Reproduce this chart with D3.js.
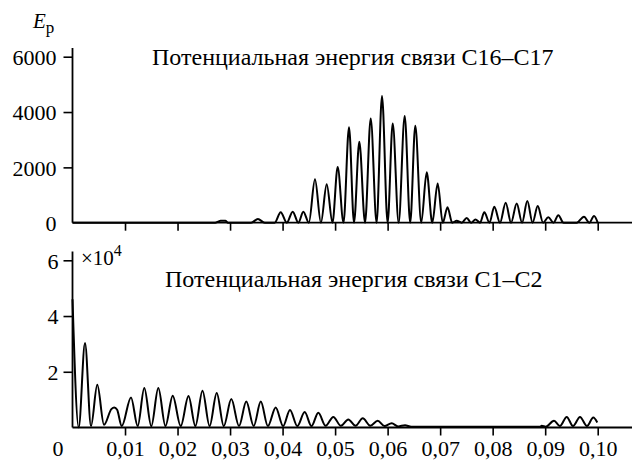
<!DOCTYPE html>
<html>
<head>
<meta charset="utf-8">
<script src="https://cdn.jsdelivr.net/npm/d3@7"></script>
<style>
  html, body { margin: 0; padding: 0; background: #fff; }
  svg { display: block; }
  text { font-family: "Liberation Serif", "Times New Roman", serif; fill: #000; }
</style>
</head>
<body>
<svg id="chart" width="632" height="461"></svg>
<script>
// Bond C16–C17: time (s) at extrema of the oscillation, and potential energy there
const c16c17T = [0, 0.0272, 0.0277, 0.0282, 0.0291, 0.0296, 0.0340, 0.0353, 0.0366, 0.0385,
  0.03964, 0.0408, 0.04193, 0.0430, 0.04395, 0.0450, 0.04617, 0.0473, 0.0484, 0.0495,
  0.05049, 0.0516, 0.05265, 0.0536, 0.05461, 0.0557, 0.05678, 0.0579, 0.05893, 0.0600,
  0.06097, 0.0621, 0.06325, 0.0643, 0.06527, 0.0664, 0.06744, 0.0685, 0.06953, 0.0705,
  0.0714, 0.0723, 0.07315, 0.0741, 0.07506, 0.0759, 0.07673, 0.0776, 0.07841, 0.0794,
  0.08031, 0.0814, 0.08248, 0.0835, 0.08458, 0.0856, 0.0866, 0.0876, 0.08858, 0.0896,
  0.09059, 0.0916, 0.0925, 0.0935, 0.0960, 0.09739, 0.0984, 0.0993, 0.1000];
const c16c17E = [0, 0, 40, 70, 70, 0, 0, 130, 0, 0,
  380, 0, 400, 0, 400, 0, 1570, 0, 1390, 0,
  2010, 0, 3450, 0, 2930, 0, 3770, 0, 4580, 0,
  3590, 0, 3860, 0, 3500, 0, 1820, 0, 1420, 0,
  560, 0, 70, 0, 170, 0, 120, 0, 380, 0,
  580, 0, 720, 0, 690, 0, 780, 0, 600, 0,
  200, 0, 270, 0, 0, 215, 0, 240, 0];

// Bond C1–C2: time (s) at extrema and potential energy there
const c1c2T = [0, 0.00118, 0.00238, 0.00352, 0.00472, 0.0060, 0.0074, 0.00796, 0.0085, 0.00937,
  0.01114, 0.01241, 0.01367, 0.0150, 0.01634, 0.0177, 0.01908, 0.0206, 0.02209, 0.0234,
  0.02475, 0.0261, 0.02746, 0.0288, 0.03024, 0.0317, 0.03309, 0.0345, 0.03585, 0.0372,
  0.03869, 0.0401, 0.04141, 0.0428, 0.04421, 0.0455, 0.0468, 0.0482, 0.04966, 0.0511,
  0.05251, 0.0539, 0.05526, 0.0567, 0.05811, 0.0594, 0.06078, 0.0620, 0.06331, 0.0645,
  0.0890, 0.08934, 0.0901, 0.09168, 0.0928, 0.0941, 0.0953, 0.09663, 0.09796, 0.09916, 0.09992];
const c1c2E = [46000, 0, 30300, 500, 15300, 1000, 6600, 7200, 6400, 500,
  10800, 500, 14200, 500, 14200, 500, 11400, 500, 11300, 500,
  13200, 500, 12400, 500, 10200, 500, 9300, 500, 9300, 500,
  7200, 500, 6300, 500, 5550, 500, 5300, 600, 3800, 600,
  2900, 600, 3300, 600, 2400, 500, 1500, 400, 800, 300,
  300, 600, 300, 2400, 500, 3800, 500, 3800, 500, 3600, 1800];

const xTicks = [0, 0.01, 0.02, 0.03, 0.04, 0.05, 0.06, 0.07, 0.08, 0.09, 0.10];
const topYTicks = [0, 2000, 4000, 6000];
const bottomYTicks = [20000, 40000, 60000];

const titleTop = "Потенциальная энергия связи C16–C17";
const titleBottom = "Потенциальная энергия связи C1–C2";

const FONT = '"Liberation Serif", "Times New Roman", serif';
const svg = d3.select("#chart");

const x = d3.scaleLinear().domain([0, 0.1]).range([72.5, 597.7]);
const yTop = d3.scaleLinear().domain([0, 6000]).range([222.7, 56.7]);
const yBot = d3.scaleLinear().domain([0, 60000]).range([427.5, 260.3]);

const fmtX = d => d === 0 ? "0" : d.toFixed(2).replace(".", ",");

function panel(y, yTicks, yFmt, yTop0, labelPad, showXLabels) {
  const g = svg.append("g");
  // y axis
  const ya = g.append("g").attr("transform", `translate(${x(0)},0)`)
    .call(d3.axisLeft(y).tickValues(yTicks).tickSize(9).tickPadding(labelPad).tickFormat(yFmt))
    .attr("font-family", FONT).attr("font-size", 22);
  ya.select(".domain").remove();
  ya.selectAll("line").attr("stroke", "#000").attr("stroke-width", 1.6);
  ya.selectAll("text").attr("dy", "0.36em");
  ya.selectAll(".tick").filter(d => d === 0).select("line").remove();
  g.append("line").attr("x1", x(0)).attr("x2", x(0)).attr("y1", yTop0).attr("y2", y(0))
    .attr("stroke", "#000").attr("stroke-width", 1.8);
  // x axis
  const xa = g.append("g").attr("transform", `translate(0,${y(0)})`)
    .call(d3.axisBottom(x).tickValues(xTicks).tickSize(8).tickPadding(5)
      .tickFormat(showXLabels ? fmtX : ""))
    .attr("font-family", FONT).attr("font-size", 22);
  xa.select(".domain").remove();
  xa.selectAll("line").attr("stroke", "#000").attr("stroke-width", 1.6);
  xa.selectAll(".tick").filter(d => d === 0).select("line").remove();
  xa.selectAll(".tick").filter(d => d === 0).select("text").attr("x", -15);
  g.append("line").attr("x1", x(0)).attr("x2", 632).attr("y1", y(0)).attr("y2", y(0))
    .attr("stroke", "#000").attr("stroke-width", 1.8);
  return g;
}

panel(yTop, topYTicks, d => d, 48, 7, false);
panel(yBot, bottomYTicks, d => d / 10000, 251.5, 5, true);

const line = (y) => d3.line()
  .x(d => x(d[0])).y(d => y(d[1]))
  .curve(d3.curveMonotoneX);

svg.append("path")
  .datum(d3.zip(c16c17T, c16c17E))
  .attr("d", line(yTop))
  .attr("fill", "none").attr("stroke", "#000").attr("stroke-width", 2).attr("stroke-linejoin", "round");

svg.append("path")
  .datum(d3.zip(c1c2T, c1c2E))
  .attr("d", line(yBot))
  .attr("fill", "none").attr("stroke", "#000").attr("stroke-width", 2).attr("stroke-linejoin", "round");

// Titles
svg.append("text").attr("x", 152).attr("y", 65).attr("font-family", FONT)
  .style("font-size", "24px").text(titleTop);
svg.append("text").attr("x", 165).attr("y", 287).attr("font-family", FONT)
  .style("font-size", "24px").text(titleBottom);

// Axis symbol E_p
const ep = svg.append("text").attr("x", 33).attr("y", 28).attr("font-family", FONT).style("font-size", "21px");
ep.append("tspan").style("font-style", "italic").text("E");
ep.append("tspan").attr("dy", 5).style("font-size", "17px").text("p");

// Exponent multiplier
const mult = svg.append("text").attr("x", 81).attr("y", 265).attr("font-family", FONT).style("font-size", "21px");
mult.append("tspan").text("×10");
mult.append("tspan").attr("dy", -9).style("font-size", "16px").text("4");
</script>
</body>
</html>
